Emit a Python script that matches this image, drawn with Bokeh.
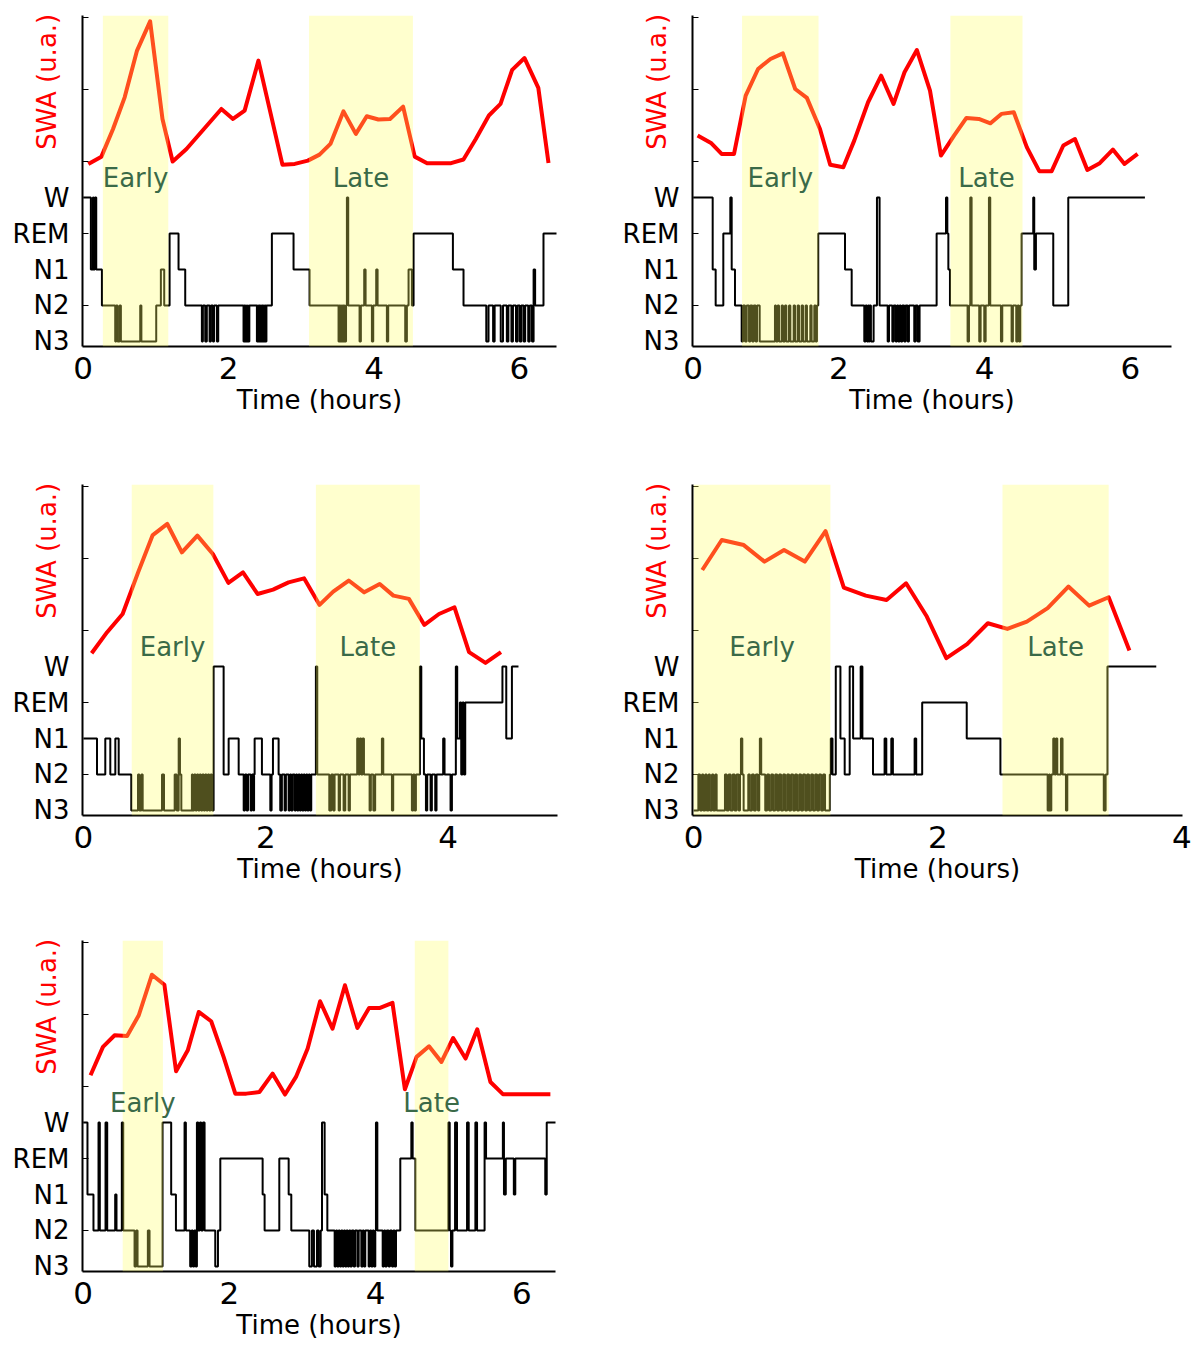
from bokeh.plotting import figure
from bokeh.models import Range1d, FixedTicker, BoxAnnotation, Label
from bokeh.layouts import column, row
from bokeh.embed import file_html
from bokeh.resources import INLINE

# ---------------- data ----------------
stage_names = ["N3", "N2", "N1", "REM", "W"]
stage_value = {"N3": 0, "N2": 1, "N1": 2, "REM": 3, "W": 4}
x_ticks = [0, 2, 4, 6]
swa_label = "SWA (u.a.)"
x_label = "Time (hours)"
band_names = ["Early", "Late"]

# Panel 1
p1_swa_t = [0.07, 0.25, 0.41, 0.57, 0.74, 0.92, 1.09, 1.23, 1.42, 1.90, 2.06, 2.22, 2.41, 2.74, 2.91, 3.09, 3.25, 3.40,
            3.58, 3.75, 3.90, 4.06, 4.22, 4.40, 4.56, 4.73, 5.06, 5.23, 5.40, 5.58, 5.74, 5.90, 6.07, 6.26, 6.40]
p1_swa_v = [18.5, 22.5, 37.7, 55.1, 80.8, 96.9, 43.2, 19.8, 26.7, 48.7, 43.2, 47.8, 75.3, 18.1, 18.5, 20.3, 23.6, 29.5,
            47.4, 35.0, 44.7, 42.9, 43.2, 50.0, 22.5, 18.9, 18.9, 20.9, 32.2, 45.1, 51.5, 70.2, 76.7, 60.3, 19.0]
p1_early = (0.27, 1.17)
p1_late = (3.106, 4.535)
p1_hypno = [
    (0.0, "W"), (0.105, "N1"), (0.133, "W"), (0.142, "N1"), (0.16, "W"), (0.179, "N1"), (0.257, "N2"),
    (0.44, "N3"), (0.454, "N2"), (0.472, "N3"), (0.50, "N2"), (0.518, "N3"), (0.784, "N2"), (0.80, "N3"),
    (1.004, "N2"), (1.068, "N1"), (1.114, "N2"), (1.188, "REM"), (1.311, "N1"), (1.403, "N2"),
    (1.632, "N3"), (1.646, "N2"), (1.678, "N3"), (1.70, "N2"), (1.738, "N3"), (1.756, "N2"), (1.784, "N3"),
    (1.80, "N2"), (1.839, "N3"), (1.857, "N2"),
    (2.205, "N3"), (2.215, "N2"), (2.225, "N3"), (2.235, "N2"), (2.245, "N3"), (2.26, "N2"), (2.27, "N3"),
    (2.285, "N2"), (2.389, "N3"), (2.40, "N2"), (2.41, "N3"), (2.42, "N2"), (2.43, "N3"), (2.44, "N2"),
    (2.45, "N3"), (2.46, "N2"), (2.47, "N3"), (2.48, "N2"), (2.49, "N3"), (2.50, "N2"), (2.51, "N3"), (2.52, "N2"),
    (2.595, "REM"), (2.893, "N1"), (3.113, "N2"),
    (3.512, "N3"), (3.522, "N2"), (3.53, "N3"), (3.54, "N2"), (3.548, "N3"), (3.558, "N2"), (3.566, "N3"),
    (3.576, "N2"), (3.584, "N3"), (3.594, "N2"), (3.602, "N3"), (3.615, "N2"), (3.627, "W"), (3.645, "N2"),
    (3.801, "N3"), (3.819, "N2"), (3.865, "N1"), (3.884, "N2"), (3.971, "N3"), (3.989, "N2"), (4.03, "N1"),
    (4.049, "N2"), (4.177, "N3"), (4.195, "N2"), (4.429, "N3"), (4.452, "N2"), (4.475, "N1"), (4.521, "N2"),
    (4.544, "REM"), (5.085, "N1"), (5.231, "N2"),
    (5.544, "N3"), (5.575, "N2"), (5.638, "N3"), (5.659, "N2"), (5.743, "N3"), (5.774, "N2"), (5.827, "N3"),
    (5.848, "N2"), (5.89, "N3"), (5.911, "N2"), (5.953, "N3"), (5.974, "N2"), (6.005, "N3"), (6.026, "N2"),
    (6.058, "N3"), (6.079, "N2"), (6.121, "N3"), (6.142, "N2"), (6.173, "N3"), (6.195, "N1"), (6.216, "N2"),
    (6.331, "REM"), (6.53, "REM"),
]

# Panel 2
p2_swa_t = [0.06, 0.25, 0.39, 0.56, 0.72, 0.89, 1.06, 1.23, 1.40, 1.56, 1.74, 1.88, 2.06, 2.21, 2.40, 2.58, 2.75, 2.90,
            3.07, 3.25, 3.40, 3.58, 3.75, 3.92, 4.08, 4.23, 4.40, 4.58, 4.75, 4.92, 5.08, 5.24, 5.41, 5.58, 5.76, 5.92,
            6.10]
p2_swa_v = [34.1, 29.8, 24.0, 24.0, 56.0, 70.7, 76.2, 79.3, 59.7, 54.8, 37.7, 18.0, 16.7, 31.3, 52.4, 67.0, 51.5, 68.9,
            81.1, 58.8, 23.1, 34.1, 43.8, 43.2, 40.8, 46.0, 46.9, 27.6, 14.5, 14.5, 28.6, 32.2, 15.2, 18.9, 26.4, 18.5,
            24.0]
p2_early = (0.67, 1.72)
p2_late = (3.53, 4.52)
p2_hypno = [
    (0.0, "W"), (0.267, "N1"), (0.308, "N2"), (0.413, "REM"), (0.509, "W"), (0.528, "N1"), (0.573, "N2"),
    (0.665, "N3"), (0.684, "N2"), (0.711, "N3"), (0.734, "N2"), (0.766, "N3"), (0.784, "N2"), (0.811, "N3"),
    (0.83, "N2"), (0.857, "N3"), (0.876, "N2"), (0.912, "N3"), (1.122, "N2"), (1.136, "N3"), (1.159, "N2"),
    (1.177, "N3"), (1.214, "N2"), (1.232, "N3"), (1.26, "N2"), (1.278, "N3"), (1.315, "N2"), (1.333, "N3"),
    (1.379, "N2"), (1.397, "N3"), (1.433, "N2"), (1.452, "N3"), (1.488, "N2"), (1.507, "N3"), (1.543, "N2"),
    (1.561, "N3"), (1.607, "N2"), (1.625, "N3"), (1.662, "N2"), (1.68, "N3"), (1.698, "N2"), (1.716, "REM"),
    (2.083, "N1"), (2.175, "N2"), (2.348, "N3"), (2.366, "N2"), (2.385, "N3"), (2.40, "N2"), (2.41, "N3"),
    (2.421, "N2"), (2.439, "N3"), (2.476, "N2"), (2.522, "W"), (2.558, "N2"),
    (2.669, "N3"), (2.687, "N2"), (2.733, "N3"), (2.751, "N2"), (2.779, "N3"), (2.797, "N2"), (2.815, "N3"),
    (2.833, "N2"), (2.851, "N3"), (2.87, "N2"), (2.897, "N3"), (2.915, "N2"), (2.943, "N3"), (2.961, "N2"),
    (3.034, "N3"), (3.052, "N2"), (3.08, "N3"), (3.107, "N2"), (3.341, "REM"), (3.47, "W"), (3.488, "REM"),
    (3.502, "N1"), (3.524, "N2"), (3.766, "N3"), (3.785, "N2"), (3.803, "W"), (3.821, "N2"), (3.926, "N3"),
    (3.945, "N2"), (3.995, "N3"), (4.014, "N2"), (4.059, "W"), (4.077, "N2"), (4.224, "N3"), (4.242, "N2"),
    (4.37, "N3"), (4.388, "N2"), (4.434, "N3"), (4.453, "N2"), (4.471, "N3"), (4.489, "N2"), (4.507, "REM"),
    (4.667, "W"), (4.681, "N1"), (4.704, "REM"), (4.942, "N2"), (5.148, "W"), (6.2, "W"),
]

# Panel 3
p3_swa_t = [0.09, 0.26, 0.43, 0.60, 0.76, 0.92, 1.08, 1.25, 1.42, 1.59, 1.75, 1.91, 2.08, 2.25, 2.42, 2.59, 2.74, 2.91,
            3.08, 3.25, 3.40, 3.57, 3.74, 3.90, 4.07, 4.23, 4.41, 4.58]
p3_swa_v = [7.3, 18.9, 28.9, 51.8, 72.3, 78.4, 62.8, 72.0, 61.9, 46.0, 51.8, 39.9, 42.3, 46.3, 48.5, 33.9, 41.2, 47.3,
            40.8, 45.4, 39.0, 37.2, 22.9, 28.9, 32.6, 7.9, 2.0, 7.9]
p3_early = (0.53, 1.425)
p3_late = (2.55, 3.69)
p3_hypno = [
    (0.0, "N1"), (0.149, "N2"), (0.24, "N1"), (0.295, "N2"), (0.35, "N1"), (0.387, "N2"), (0.525, "N3"),
    (0.599, "N2"), (0.614, "N3"), (0.636, "N2"), (0.65, "N3"), (0.862, "N2"), (0.884, "N3"), (1.001, "N2"),
    (1.023, "N3"), (1.045, "N1"), (1.059, "N2"), (1.074, "N3"), (1.19, "N2"), (1.20, "N3"), (1.215, "N2"),
    (1.23, "N3"), (1.245, "N2"), (1.26, "N3"), (1.275, "N2"), (1.29, "N3"), (1.305, "N2"), (1.32, "N3"),
    (1.335, "N2"), (1.35, "N3"), (1.365, "N2"), (1.38, "N3"), (1.395, "N2"), (1.41, "N3"), (1.428, "W"),
    (1.538, "N2"), (1.593, "N1"), (1.703, "N2"), (1.758, "N3"), (1.772, "N2"), (1.79, "N3"), (1.805, "N2"),
    (1.834, "N3"), (1.849, "N2"), (1.867, "N3"), (1.872, "N2"), (1.878, "N1"), (1.958, "N2"), (2.05, "N3"),
    (2.064, "N2"), (2.079, "N1"), (2.141, "N2"), (2.159, "N3"), (2.177, "N2"), (2.207, "N3"), (2.221, "N2"),
    (2.251, "N3"), (2.265, "N2"), (2.28, "N3"), (2.294, "N2"),
    (2.317, "N3"), (2.331, "N2"), (2.345, "N3"), (2.359, "N2"), (2.373, "N3"), (2.387, "N2"), (2.401, "N3"),
    (2.415, "N2"), (2.429, "N3"), (2.443, "N2"), (2.457, "N3"), (2.471, "N2"), (2.485, "N3"), (2.499, "N2"),
    (2.55, "W"), (2.565, "N2"), (2.697, "N3"), (2.719, "N2"), (2.741, "N3"), (2.755, "N2"), (2.80, "N3"),
    (2.814, "N2"), (2.854, "N3"), (2.872, "N2"), (2.909, "N3"), (2.923, "N2"), (3.003, "N1"), (3.018, "N2"),
    (3.032, "N1"), (3.047, "N2"), (3.062, "N1"), (3.077, "N2"), (3.139, "N3"), (3.153, "N2"), (3.18, "N3"),
    (3.20, "N2"), (3.274, "N1"), (3.289, "N2"), (3.384, "N3"), (3.398, "N2"), (3.603, "N3"), (3.618, "N2"),
    (3.632, "N3"), (3.647, "N2"), (3.691, "W"), (3.706, "N1"), (3.735, "N2"), (3.757, "N3"), (3.771, "N2"),
    (3.808, "N3"), (3.822, "N2"), (3.859, "N3"), (3.873, "N2"), (3.946, "N1"), (3.961, "N2"), (4.027, "N3"),
    (4.042, "N2"), (4.085, "W"), (4.10, "N1"), (4.129, "REM"), (4.144, "N2"), (4.158, "REM"), (4.173, "N2"),
    (4.188, "REM"), (4.596, "W"), (4.638, "N1"), (4.70, "W"), (4.772, "W"),
]

# Panel 4
p4_swa_t = [0.07, 0.23, 0.41, 0.58, 0.74, 0.91, 1.08, 1.23, 1.41, 1.58, 1.74, 1.91, 2.07, 2.24, 2.41, 2.57, 2.73, 2.90,
            3.07, 3.24, 3.40, 3.57]
p4_swa_v = [53.1, 69.6, 66.8, 57.7, 64.1, 57.7, 74.5, 43.4, 39.0, 36.6, 45.8, 27.5, 4.6, 12.3, 23.8, 20.7, 24.7, 32.1,
            44.0, 33.5, 38.1, 8.8]
p4_early = (0.0, 1.12)
p4_late = (2.53, 3.40)
p4_hypno = [
    (0.0, "N3"), (0.038, "N2"), (0.052, "N3"), (0.068, "N2"), (0.079, "N3"), (0.095, "N2"), (0.106, "N3"),
    (0.122, "N2"), (0.133, "N3"), (0.15, "N2"), (0.161, "N3"), (0.177, "N2"), (0.188, "N3"), (0.256, "N2"),
    (0.27, "N3"), (0.286, "N2"), (0.302, "N3"), (0.319, "N2"), (0.335, "N3"), (0.351, "N2"), (0.368, "N3"),
    (0.379, "N2"), (0.387, "N1"), (0.398, "N2"), (0.409, "N3"), (0.447, "N2"), (0.46, "N3"), (0.477, "N2"),
    (0.493, "N3"), (0.509, "N2"), (0.526, "N3"), (0.537, "N2"), (0.542, "N1"), (0.553, "N2"), (0.586, "N3"),
    (0.602, "N2"), (0.618, "N3"), (0.635, "N2"), (0.651, "N3"), (0.668, "N2"), (0.684, "N3"), (0.70, "N2"),
    (0.716, "N3"), (0.733, "N2"), (0.749, "N3"), (0.766, "N2"), (0.782, "N3"), (0.798, "N2"), (0.815, "N3"),
    (0.831, "N2"), (0.847, "N3"), (0.864, "N2"), (0.88, "N3"), (0.896, "N2"), (0.913, "N3"), (0.929, "N2"),
    (0.945, "N3"), (0.962, "N2"), (0.978, "N3"), (0.995, "N2"), (1.011, "N3"), (1.027, "N2"), (1.044, "N3"),
    (1.06, "N2"), (1.076, "N3"), (1.115, "N2"), (1.123, "N1"), (1.137, "N2"), (1.164, "W"), (1.202, "N1"),
    (1.237, "N2"), (1.278, "W"), (1.306, "N1"), (1.368, "W"), (1.382, "N1"), (1.469, "N2"), (1.564, "N1"),
    (1.578, "N2"), (1.619, "N1"), (1.632, "N2"), (1.81, "N1"), (1.823, "N2"), (1.872, "REM"), (2.237, "N1"),
    (2.513, "N2"), (2.90, "N3"), (2.911, "N2"), (2.919, "N3"), (2.93, "N2"), (2.946, "N1"), (2.957, "N2"),
    (2.968, "N1"), (2.979, "N2"), (3.009, "N1"), (3.022, "N2"), (3.05, "N3"), (3.061, "N2"), (3.36, "N3"),
    (3.375, "N2"), (3.39, "W"), (3.79, "W"),
]

# Panel 5
p5_swa_t = [0.10, 0.27, 0.43, 0.60, 0.76, 0.94, 1.11, 1.27, 1.43, 1.58, 1.75, 1.92, 2.08, 2.23, 2.41, 2.59, 2.76, 2.91,
            3.07, 3.24, 3.41, 3.58, 3.75, 3.91, 4.06, 4.23, 4.40, 4.56, 4.73, 4.90, 5.06, 5.23, 5.39, 5.57, 5.74, 5.89,
            6.06, 6.23, 6.39]
p5_swa_v = [26.0, 41.6, 48.0, 47.6, 59.0, 81.3, 75.8, 28.2, 39.7, 60.8, 55.7, 36.1, 15.9, 15.9, 16.8, 26.9, 15.4, 25.1,
            40.7, 66.7, 51.6, 75.5, 52.0, 63.0, 63.0, 65.8, 18.3, 36.1, 41.9, 33.3, 46.5, 35.2, 51.3, 22.3, 15.6, 15.6,
            15.6, 15.6, 15.6]
p5_early = (0.54, 1.09)
p5_late = (4.535, 4.995)
p5_hypno = [
    (0.0, "W"), (0.058, "N1"), (0.14, "N2"), (0.209, "W"), (0.227, "N2"), (0.305, "W"), (0.328, "N2"),
    (0.437, "N1"), (0.455, "N2"), (0.528, "W"), (0.547, "N2"), (0.702, "N3"), (0.725, "N2"), (0.743, "N3"),
    (0.884, "N2"), (0.907, "N3"), (1.085, "W"), (1.203, "N1"), (1.268, "N2"), (1.386, "W"), (1.404, "N2"),
    (1.463, "N3"), (1.482, "N2"), (1.50, "N3"), (1.519, "N2"), (1.537, "N3"), (1.555, "W"), (1.574, "N2"),
    (1.596, "W"), (1.614, "N2"), (1.637, "W"), (1.66, "N2"), (1.806, "N3"), (1.843, "N2"), (1.875, "REM"),
    (2.454, "N1"), (2.481, "N2"), (2.682, "REM"), (2.81, "N1"), (2.846, "N2"), (3.092, "N3"), (3.128, "N2"),
    (3.156, "N3"), (3.197, "N2"), (3.22, "N3"), (3.248, "N2"), (3.266, "W"), (3.302, "N1"), (3.339, "N2"),
    (3.439, "N3"), (3.457, "N2"), (3.475, "N3"), (3.493, "N2"), (3.511, "N3"), (3.529, "N2"), (3.547, "N3"),
    (3.565, "N2"), (3.583, "N3"), (3.601, "N2"), (3.619, "N3"), (3.637, "N2"), (3.655, "N3"), (3.673, "N2"),
    (3.699, "N3"), (3.718, "N2"), (3.75, "N3"), (3.768, "N2"), (3.804, "N3"), (3.822, "N2"), (3.84, "N3"),
    (3.858, "N2"), (3.904, "N3"), (3.922, "N2"), (3.941, "N3"), (3.959, "N2"), (3.977, "N3"), (3.995, "N2"),
    (4.004, "W"), (4.023, "N2"), (4.096, "N3"), (4.114, "N2"), (4.132, "N3"), (4.151, "N2"), (4.178, "N3"),
    (4.196, "N2"), (4.223, "N3"), (4.242, "N2"), (4.26, "N3"), (4.278, "N2"), (4.337, "REM"), (4.488, "W"),
    (4.506, "REM"), (4.543, "N2"), (4.995, "W"), (5.013, "N2"), (5.031, "N3"), (5.05, "N2"), (5.086, "W"),
    (5.113, "N2"), (5.25, "W"), (5.273, "N2"), (5.364, "W"), (5.387, "N2"), (5.49, "W"), (5.51, "REM"),
    (5.74, "W"), (5.755, "N1"), (5.78, "REM"), (5.89, "N1"), (5.91, "REM"), (6.32, "N1"), (6.34, "W"),
    (6.56, "W"),
]

# ---------------- styling ----------------
FONT = "DejaVu Sans"
BAND_FILL = "#ffff60"
BAND_ALPHA = 0.31
BAND_TEXT = "#3a6a48"
FRAME_H = 331
X_START = -0.01
# non-breaking spaces that lift the (centred) axis title into the upper, SWA part of the axis
SWA_LABEL_LIFT = "\u00a0" * 24


def make_panel(swa_t, swa_v, hypno, early, late, x_end, frame_w, border_l, border_t, border_b, border_r):
    p = figure(frame_width=frame_w, frame_height=FRAME_H,
               x_range=Range1d(X_START, x_end), y_range=Range1d(-0.14, 9.06),
               output_backend="svg", toolbar_location=None,
               min_border_left=border_l, min_border_right=border_r,
               min_border_top=border_t, min_border_bottom=border_b)
    p.extra_y_ranges = {"swa": Range1d(-81.9, 100.1)}
    p.xgrid.visible = False
    p.ygrid.visible = False
    p.outline_line_color = None
    p.background_fill_color = "white"
    p.border_fill_color = "white"

    xa = p.xaxis[0]
    xa.ticker = FixedTicker(ticks=x_ticks)
    xa.major_tick_line_color = None
    xa.minor_tick_line_color = None
    xa.major_tick_in = 0
    xa.major_tick_out = 0
    xa.axis_line_width = 2
    xa.axis_line_color = "black"
    xa.major_label_text_font = FONT
    xa.major_label_text_font_size = "31px"
    xa.major_label_text_color = "black"
    xa.major_label_standoff = 10
    xa.axis_label = x_label
    xa.axis_label_text_font = FONT
    xa.axis_label_text_font_size = "26px"
    xa.axis_label_text_font_style = "normal"
    xa.axis_label_text_color = "black"
    xa.axis_label_standoff = 3

    ya = p.yaxis[0]
    ya.ticker = FixedTicker(ticks=[stage_value[s] for s in stage_names], minor_ticks=[1, 3, 5, 7, 9])
    ya.major_label_overrides = {stage_value[s]: s for s in stage_names}
    ya.major_tick_line_color = None
    ya.major_tick_in = 0
    ya.major_tick_out = 0
    ya.minor_tick_in = 6
    ya.minor_tick_out = 0
    ya.minor_tick_line_color = "black"
    ya.minor_tick_line_width = 1
    ya.axis_line_width = 2
    ya.axis_line_color = "black"
    ya.major_label_text_font = FONT
    ya.major_label_text_font_size = "26px"
    ya.major_label_text_color = "black"
    ya.major_label_standoff = 13

    # SWA axis title, drawn by the axis itself, overlapping the stage-label column
    ya.axis_label = SWA_LABEL_LIFT + swa_label
    ya.axis_label_text_font = FONT
    ya.axis_label_text_font_size = "26px"
    ya.axis_label_text_font_style = "normal"
    ya.axis_label_text_color = "#ff0000"
    ya.axis_label_standoff = -52

    ht = [t for t, s in hypno]
    hs = [stage_value[s] for t, s in hypno]
    p.step(ht, hs, mode="after", line_color="black", line_width=2)
    p.line(swa_t, swa_v, y_range_name="swa", line_color="#ff0000", line_width=4, line_join="round")

    for (a, b) in [early, late]:
        p.add_layout(BoxAnnotation(left=a, right=b, fill_color=BAND_FILL, fill_alpha=BAND_ALPHA,
                                   line_color=None))
    for (a, b), name in zip([early, late], band_names):
        p.add_layout(Label(x=(a + b) / 2, y=4.55, text=name, text_align="center", text_baseline="middle",
                           text_color=BAND_TEXT, text_font=FONT, text_font_size="26px"))
    return p


f1 = make_panel(p1_swa_t, p1_swa_v, p1_hypno, p1_early, p1_late, 6.51, 474, 82, 15, 131, 62)
f2 = make_panel(p2_swa_t, p2_swa_v, p2_hypno, p2_early, p2_late, 6.565, 479, 74, 15, 131, 19)
f3 = make_panel(p3_swa_t, p3_swa_v, p3_hypno, p3_early, p3_late, 5.2, 475, 82, 7, 118, 61)
f4 = make_panel(p4_swa_t, p4_swa_v, p4_hypno, p4_early, p4_late, 4.005, 490, 74, 7, 118, 10)
f5 = make_panel(p5_swa_t, p5_swa_v, p5_hypno, p5_early, p5_late, 6.46, 473, 82, 7, 76, 63)

layout = column(row(f1, f2), row(f3, f4), row(f5))
open("out.html", "w").write(file_html(layout, INLINE))
